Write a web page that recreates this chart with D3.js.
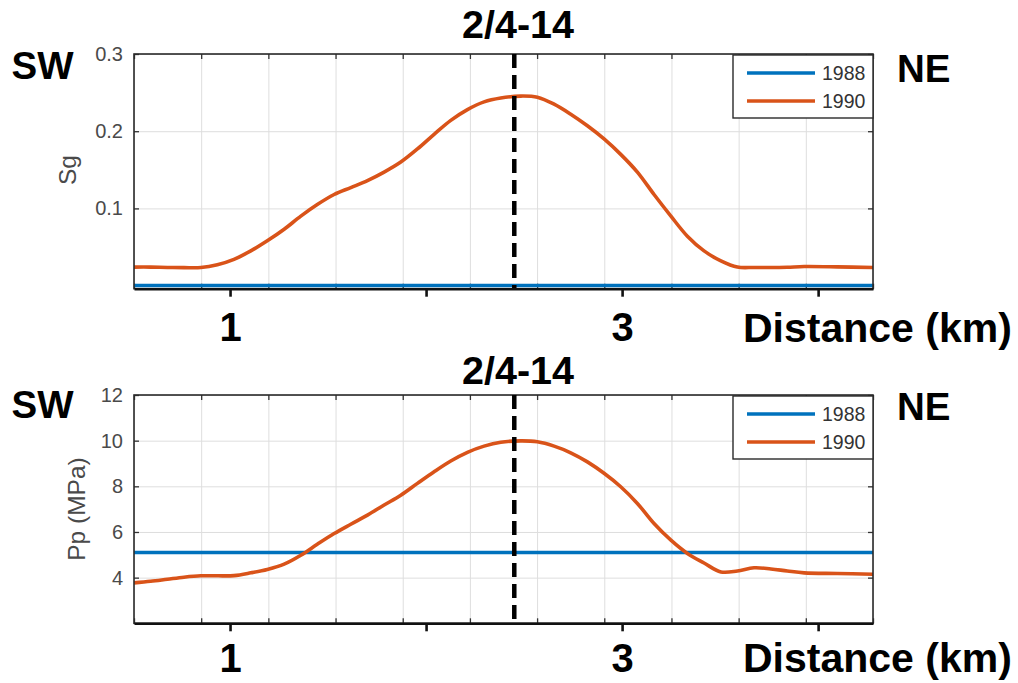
<!DOCTYPE html>
<html>
<head>
<meta charset="utf-8">
<script src="https://cdn.jsdelivr.net/npm/d3@7"></script>
<style>
  html, body { margin: 0; padding: 0; background: #ffffff; }
  svg { display: block; font-family: "Liberation Sans", Arial, sans-serif; }
</style>
</head>
<body>
<svg id="chart" width="1018" height="683"></svg>
<script>
// Distance along the SW-NE section (km), shared by both 1990 profiles
const distanceKm = [
  0.510, 0.595, 0.680, 0.765, 0.851, 0.935, 1.020, 1.106, 1.190, 1.276,
  1.361, 1.445, 1.531, 1.616, 1.701, 1.786, 1.871, 1.956, 2.041, 2.126,
  2.211, 2.296, 2.381, 2.483, 2.568, 2.653, 2.738, 2.823, 2.908, 2.993,
  3.078, 3.163, 3.249, 3.333, 3.418, 3.504, 3.588, 3.673, 3.759, 3.843,
  3.929, 4.098, 4.280
];

// Gas saturation, 1990
const sg1990 = [
  0.024, 0.024, 0.0235, 0.0233, 0.0234, 0.027, 0.034, 0.045, 0.058, 0.073,
  0.090, 0.105, 0.118, 0.127, 0.136, 0.147, 0.160, 0.177, 0.196, 0.214,
  0.228, 0.238, 0.243, 0.2455, 0.244, 0.235, 0.222, 0.207, 0.190, 0.170,
  0.147, 0.118, 0.090, 0.064, 0.045, 0.032, 0.024, 0.0235, 0.0234, 0.0238,
  0.0247, 0.0243, 0.0234
];

// Pore pressure (MPa), 1990
const pp1990 = [
  3.77, 3.84, 3.93, 4.02, 4.08, 4.08, 4.09, 4.21, 4.36, 4.59,
  4.98, 5.46, 5.93, 6.34, 6.74, 7.18, 7.61, 8.13, 8.64, 9.11,
  9.49, 9.76, 9.93, 9.99, 9.95, 9.76, 9.47, 9.07, 8.57, 7.98,
  7.25, 6.37, 5.64, 5.06, 4.64, 4.25, 4.29, 4.43, 4.38, 4.29,
  4.21, 4.18, 4.15
];

// 1988 baseline state (uniform across the section)
const km1988 = [0.51, 4.28];
const sg1988 = [0, 0];
const pp1988 = [5.1, 5.1];

// Axis ticks
const kmTicks = [1, 2, 3, 4];
const kmTickLabels = ["1", "", "3", ""];
const sgTicks = [0.1, 0.2, 0.3];
const ppTicks = [4, 6, 8, 10, 12];
const gridCellTicks = [0, 1, 2, 3, 4, 5, 6, 7, 8, 9, 10, 11];

const years = ["1988", "1990"];
const wellName = "2/4-14";
const wellKm = 2.45;

const COLORS = { "1988": "#0072BD", "1990": "#D95319" };

const svg = d3.select("#chart");

const left = 134, right = 873;
const x = d3.scaleLinear().domain([0.51, 4.28]).range([left, right]);
const xGrid = d3.scaleLinear().domain([0, 11]).range([left, right]);

const panels = [
  {
    id: "sg", top: 54, bottom: 288.7, domain: [-0.004, 0.3], ticks: sgTicks,
    fmt: d3.format(".1f"), label: "Sg", labelX: 75.5, labelY: 170,
    s1988: sg1988, s1990: sg1990,
    titleY: 38.3, swY: 79.3, neY: 81.5, kmLabelY: 341.5
  },
  {
    id: "pp", top: 395, bottom: 623.3, domain: [2, 12], ticks: ppTicks,
    fmt: d3.format("d"), label: "Pp (MPa)", labelX: 84.6, labelY: 509,
    s1988: pp1988, s1990: pp1990,
    titleY: 384, swY: 417.5, neY: 420, kmLabelY: 671.7
  }
];

panels.forEach(p => {
  const y = d3.scaleLinear().domain(p.domain).range([p.bottom, p.top]);
  const h = p.bottom - p.top;
  const g = svg.append("g").attr("class", "panel-" + p.id);

  // clip region for the data lines
  svg.append("clipPath").attr("id", "clip-" + p.id)
    .append("rect").attr("x", left).attr("y", p.top)
    .attr("width", right - left).attr("height", h);

  // vertical grid
  g.append("g")
    .attr("transform", `translate(0,${p.bottom})`)
    .call(d3.axisBottom(xGrid).tickValues(gridCellTicks).tickSize(-h).tickFormat(""))
    .call(a => a.select(".domain").remove())
    .call(a => a.selectAll("line").attr("stroke", "#dedede").attr("stroke-width", 1));

  // horizontal grid
  g.append("g")
    .attr("transform", `translate(${left},0)`)
    .call(d3.axisLeft(y).tickValues(p.ticks).tickSize(-(right - left)).tickFormat(""))
    .call(a => a.select(".domain").remove())
    .call(a => a.selectAll("line").attr("stroke", "#dedede").attr("stroke-width", 1));

  // inward tick marks on all four sides
  const tickStyle = a => {
    a.select(".domain").remove();
    a.selectAll("line").attr("stroke", "#333").attr("stroke-width", 1.3);
  };
  g.append("g").attr("transform", `translate(0,${p.top})`)
    .call(d3.axisTop(xGrid).tickValues(gridCellTicks).tickSize(-5).tickFormat(""))
    .call(tickStyle);
  g.append("g").attr("transform", `translate(0,${p.bottom})`)
    .call(d3.axisBottom(xGrid).tickValues(gridCellTicks).tickSize(-5).tickFormat(""))
    .call(tickStyle);
  g.append("g").attr("transform", `translate(${right},0)`)
    .call(d3.axisRight(y).tickValues(p.ticks).tickSize(-5).tickFormat(""))
    .call(tickStyle);
  g.append("g").attr("transform", `translate(${left},0)`)
    .call(d3.axisLeft(y).tickValues(p.ticks).tickSize(-5).tickFormat(""))
    .call(tickStyle);

  // y tick labels
  g.append("g").attr("transform", `translate(${left},0)`)
    .call(d3.axisLeft(y).tickValues(p.ticks).tickSize(0).tickPadding(11).tickFormat(p.fmt))
    .call(a => a.select(".domain").remove())
    .call(a => a.selectAll("text")
      .attr("font-size", 20).attr("fill", "#4a4a4a")
      .attr("font-family", "'Liberation Sans', Arial, sans-serif"));

  // y axis title
  g.append("text")
    .attr("transform", `translate(${p.labelX},${p.labelY}) rotate(-90)`)
    .attr("text-anchor", "middle")
    .attr("font-size", 24.5).attr("fill", "#4a4a4a")
    .text(p.label);

  // data lines
  const straight = d3.line().x(d => x(d[0])).y(d => y(d[1]));
  const smooth = d3.line().x(d => x(d[0])).y(d => y(d[1])).curve(d3.curveCatmullRom.alpha(0.5));
  const lines = g.append("g").attr("clip-path", `url(#clip-${p.id})`);
  lines.append("path")
    .datum(d3.zip(km1988, p.s1988))
    .attr("d", straight).attr("fill", "none")
    .attr("stroke", COLORS["1988"]).attr("stroke-width", 3.5);
  lines.append("path")
    .datum(d3.zip(distanceKm, p.s1990))
    .attr("d", smooth).attr("fill", "none")
    .attr("stroke", COLORS["1990"]).attr("stroke-width", 3.6)
    .attr("stroke-linejoin", "round");

  // plot frame
  g.append("rect")
    .attr("x", left).attr("y", p.top)
    .attr("width", right - left).attr("height", h)
    .attr("fill", "none").attr("stroke", "#2a2a2a").attr("stroke-width", 1.6);

  // well location marker
  g.append("line")
    .attr("x1", x(wellKm)).attr("x2", x(wellKm))
    .attr("y1", p.top).attr("y2", p.bottom)
    .attr("stroke", "#000").attr("stroke-width", 4.5)
    .attr("stroke-dasharray", "14,7");

  // distance axis (km)
  g.append("g").attr("transform", `translate(0,${p.bottom})`)
    .call(d3.axisBottom(x).tickValues(kmTicks).tickSize(8).tickSizeOuter(0)
      .tickFormat((d, i) => kmTickLabels[i]))
    .call(a => a.select(".domain").attr("stroke", "#111").attr("stroke-width", 2.6))
    .call(a => a.selectAll(".tick line").attr("stroke", "#111").attr("stroke-width", 2.6))
    .call(a => a.selectAll(".tick text")
      .attr("y", p.kmLabelY - p.bottom).attr("dy", 0)
      .attr("font-size", 40).attr("font-weight", "bold").attr("fill", "#000")
      .attr("font-family", "'Liberation Sans', Arial, sans-serif"));

  g.append("text")
    .attr("x", 743).attr("y", p.kmLabelY)
    .attr("font-size", 41).attr("font-weight", "bold").attr("fill", "#000")
    .text("Distance (km)");

  // well name above the panel
  g.append("text")
    .attr("x", 518).attr("y", p.titleY)
    .attr("text-anchor", "middle")
    .attr("font-size", 39.5).attr("font-weight", "bold").attr("fill", "#000")
    .text(wellName);

  // section direction labels
  g.append("text").attr("x", 11.5).attr("y", p.swY)
    .attr("font-size", 38.5).attr("font-weight", "bold").attr("fill", "#000")
    .text("SW");
  g.append("text").attr("x", 897).attr("y", p.neY)
    .attr("font-size", 38.5).attr("font-weight", "bold").attr("fill", "#000")
    .text("NE");

  // legend
  const lg = g.append("g").attr("transform", `translate(733,${p.top + 1})`);
  lg.append("rect").attr("width", 140).attr("height", 63)
    .attr("fill", "#fff").attr("stroke", "#2a2a2a").attr("stroke-width", 1.4);
  years.forEach((yr, i) => {
    const ly = 18 + i * 28;
    lg.append("line").attr("x1", 14).attr("x2", 82).attr("y1", ly).attr("y2", ly)
      .attr("stroke", COLORS[yr]).attr("stroke-width", 3.5);
    lg.append("text").attr("x", 89).attr("y", ly).attr("dy", "0.36em")
      .attr("font-size", 19.5).attr("fill", "#333").text(yr);
  });
});
</script>
</body>
</html>
